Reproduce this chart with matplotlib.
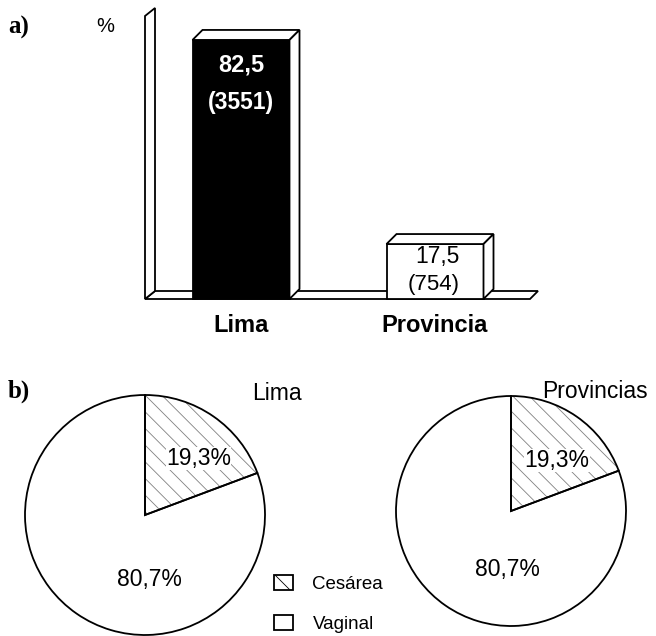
import matplotlib
matplotlib.use('Agg')
import matplotlib.pyplot as plt
from matplotlib.patches import Polygon, Patch

# ---------------- data ----------------
regions = ['Lima', 'Provincia']
pct = [82.5, 17.5]
counts = [3551, 754]

pie_titles = ['Lima', 'Provincias']
pie_labels = ['Cesárea', 'Vaginal']
pie_lima = [19.3, 80.7]
pie_prov = [19.3, 80.7]

# ---------------- style ----------------
plt.rcParams['font.family'] = ['Liberation Sans', 'DejaVu Sans']
plt.rcParams['hatch.linewidth'] = 0.6

W, H = 656, 636
fig = plt.figure(figsize=(W / 100, H / 100), dpi=100)
fig.patch.set_facecolor('white')


def fx(px):
    return px / W


def fy(py):
    return 1 - py / H


def fmt(v):
    return f"{v:.1f}".replace('.', ',')


# ---------------- a) 3D-looking bar chart ----------------
ax = fig.add_axes([0, fy(340), 1, 340 / H])
X0, XS, Y0, YS = 241, 194, 299, 3.14
ax.set_xlim(-X0 / XS, (W - X0) / XS)
ax.set_ylim((Y0 - 340) / YS, Y0 / YS)
ax.axis('off')


def bx(px):
    return (px - X0) / XS


def bv(py):
    return (Y0 - py) / YS


lw = 1.3
# floor and back wall
floor = Polygon([(bx(145), bv(299)), (bx(530), bv(299)), (bx(538), bv(291)), (bx(155), bv(291))],
                closed=True, facecolor='white', edgecolor='black', lw=lw, zorder=1)
wall = Polygon([(bx(145), bv(299)), (bx(145), bv(16)), (bx(155), bv(8)), (bx(155), bv(291))],
               closed=True, facecolor='white', edgecolor='black', lw=lw, zorder=1)
ax.add_patch(floor)
ax.add_patch(wall)

xpos = list(range(len(regions)))
bars = ax.bar(xpos, pct, width=0.5, color=['black', 'white'], edgecolor='black',
              linewidth=lw, zorder=3)

ddx = 10 / XS
ddv = 10 / YS
for b in bars:
    x, w, h = b.get_x(), b.get_width(), b.get_height()
    top = Polygon([(x, h), (x + ddx, h + ddv), (x + w + ddx, h + ddv), (x + w, h)],
                  closed=True, facecolor='white', edgecolor='black', lw=lw, zorder=3)
    side = Polygon([(x + w, 0), (x + w, h), (x + w + ddx, h + ddv), (x + w + ddx, ddv)],
                   closed=True, facecolor='white', edgecolor='black', lw=lw, zorder=3)
    ax.add_patch(top)
    ax.add_patch(side)

# value labels
ax.text(xpos[0], pct[0] - 8.0, fmt(pct[0]), color='white', fontsize=17,
        fontweight='bold', ha='center', va='center', zorder=5)
ax.text(xpos[0], pct[0] - 20.0, f"({counts[0]})", color='white', fontsize=16.5,
        fontweight='bold', ha='center', va='center', zorder=5)
ax.text(xpos[1] + 0.015, pct[1] - 4.1, fmt(pct[1]), color='black', fontsize=16.5,
        ha='center', va='center', zorder=5)
ax.text(xpos[1] - 0.005, pct[1] - 13.0, f"({counts[1]})", color='black', fontsize=16,
        ha='center', va='center', zorder=5)

for i, r in enumerate(regions):
    ax.text(xpos[i], bv(325), r, fontsize=17, fontweight='bold', ha='center', va='center')

ax.text(bx(105), bv(26), '%', fontsize=14.5, ha='center', va='center')
fig.text(fx(8), fy(27), 'a)', family=['Liberation Serif', 'DejaVu Serif'],
         fontweight='bold', fontsize=18, ha='left', va='center')

# ---------------- b) pies ----------------
fig.text(fx(8), fy(391), 'b)', family=['Liberation Serif', 'DejaVu Serif'],
         fontweight='bold', fontsize=18, ha='left', va='center')

hatches = ['\\\\', '']
pie_specs = [
    (pie_lima, (145, 515), 120, pie_titles[0], (277, 393), (0.445, 0.47), (0.04, -0.54)),
    (pie_prov, (511, 511), 115, pie_titles[1], (595, 392), (0.40, 0.44), (-0.035, -0.51)),
]
for vals, (cx, cy), r, title, (tx, ty), p1, p2 in pie_specs:
    pax = fig.add_axes([fx(cx - r), fy(cy + r), 2 * r / W, 2 * r / H])
    fills, _ = pax.pie(vals, startangle=90, counterclock=False, colors=['white', 'white'],
                       wedgeprops=dict(linewidth=0, edgecolor='#808080'))
    for wdg, h in zip(fills, hatches):
        wdg.set_hatch(h)
        wdg.set_clip_on(False)
    outl, _ = pax.pie(vals, startangle=90, counterclock=False,
                      wedgeprops=dict(fill=False, linewidth=lw, edgecolor='black'))
    for wdg in outl:
        wdg.set_clip_on(False)
    pax.set_xlim(-1, 1)
    pax.set_ylim(-1, 1)
    pax.set_aspect('equal')
    pax.axis('off')
    pax.text(p1[0], p1[1], fmt(vals[0]) + '%', fontsize=16.5, ha='center', va='center',
             bbox=dict(facecolor='white', edgecolor='none', pad=0.2))
    pax.text(p2[0], p2[1], fmt(vals[1]) + '%', fontsize=16.5, ha='center', va='center')
    fig.text(fx(tx), fy(ty), title, fontsize=16.5, ha='center', va='center')

handles = [Patch(facecolor='white', edgecolor='black', hatch='\\', lw=1.3),
           Patch(facecolor='white', edgecolor='black', lw=1.3)]
fig.legend(handles, pie_labels, loc='upper left', bbox_to_anchor=(fx(274), fy(575)),
           frameon=False, fontsize=13.5, handlelength=1.0, handleheight=0.85,
           handletextpad=1.05, labelspacing=1.2, borderpad=0, borderaxespad=0)

fig.savefig('out.png', dpi=100, facecolor='white')
